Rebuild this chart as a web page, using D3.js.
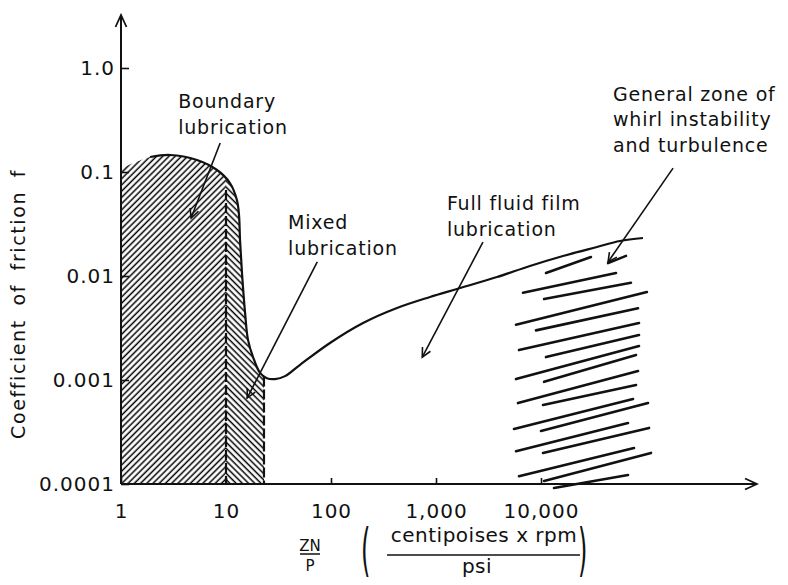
<!DOCTYPE html>
<html>
<head>
<meta charset="utf-8">
<script src="https://cdn.jsdelivr.net/npm/d3@7"></script>
<style>
  html, body { margin: 0; padding: 0; background: #fff; }
  svg { display: block; }
  text { font-family: "DejaVu Sans", sans-serif; fill: #111; }
</style>
</head>
<body>
<script>
"use strict";

// Values

const xTicks = [1, 10, 100, 1000, 10000];
const xTickLabels = ["1", "10", "100", "1,000", "10,000"];
const yTicks = [0.0001, 0.001, 0.01, 0.1, 1];
const yTickLabels = ["0.0001", "0.001", "0.01", "0.1", "1.0"];

// Stribeck curve: ZN/P against friction coefficient f
const curveZN = [1.89, 2.93, 5.29, 8.21, 10.9, 12.7, 13.3, 13.6, 14.2, 15.2, 16.2, 18.1, 21.1, 24.5, 29.3, 36.5, 50.7, 97.8, 202, 425, 877, 1585, 3810, 7850, 16200, 34100, 56500, 93600];
const curveF = [0.1394, 0.1457, 0.1303, 0.1045, 0.0784, 0.0538, 0.0386, 0.0222, 0.0107, 0.0044, 0.00243, 0.00166, 0.00117, 0.00104, 0.00102, 0.00109, 0.0014, 0.00227, 0.00353, 0.00492, 0.00628, 0.0075, 0.00977, 0.01248, 0.01557, 0.019, 0.0217, 0.0232];

// Regime limits (ZN/P) and where the dashed dividers start (f)
const boundaryEdgeF = 0.108;   // hatch top where it meets the f axis
const regimeLimits = [10, 23];
const dividerTopF = [0.067, 0.00108];

// Whirl zone strokes, start and end as [ZN/P, f]
const whirlStart = [
    [11160, 0.0107], [43500, 0.0133], [6740, 0.0069], [10700, 0.0060], [5780, 0.0034],
    [8960, 0.0030], [6170, 0.00194], [11160, 0.00166], [5780, 0.00102], [10700, 0.00096],
    [6040, 0.00060], [10450, 0.000575], [5530, 0.000338], [10000, 0.000324], [5780, 0.000207],
    [10450, 0.000199], [6170, 0.000119], [10700, 0.000107], [13300, 0.0000916]
];
const whirlEnd = [
    [29900, 0.0152], [64500, 0.0156], [51800, 0.0107], [71900, 0.0086], [102000, 0.0070],
    [84000, 0.0049], [85800, 0.00353], [85800, 0.00271], [85800, 0.00212], [80400, 0.00174],
    [84000, 0.00122], [80400, 0.000895], [75200, 0.000657], [104500, 0.000601], [67400, 0.000386],
    [106900, 0.000346], [76900, 0.000222], [111600, 0.000199], [67400, 0.000122]
];

// Annotations
const labelText = [
    ["Boundary", "lubrication"],
    ["Mixed", "lubrication"],
    ["Full fluid film", "lubrication"],
    ["General zone of", "whirl instability", "and turbulence"]
];
const labelAt = [[3.5, 0.412], [39, 0.0283], [1270, 0.0431], [48500, 0.482]];
const leaderFrom = [[8.8, 0.190], [74, 0.01364], [2800, 0.0212], [181000, 0.109]];
const leaderTo = [[4.65, 0.0361], [15.9, 0.000671], [740, 0.00166], [43500, 0.01364]];

// Size parameters

const width = 788;
const height = 585;
const ink = "#111";

const x = d3.scaleLog().domain([1, 1e6]).range([121, 121 + 6 * 105]);
const y = d3.scaleLog().domain([1e-4, 1]).range([484, 68]);

const svg = d3.select("body")
    .append("svg")
    .attr("width", width)
    .attr("height", height);

const defs = svg.append("defs");

// Hatch patterns, "/" for boundary and "\" for mixed
const makeHatch = (id, angle) => {
    defs.append("pattern")
        .attr("id", id)
        .attr("patternUnits", "userSpaceOnUse")
        .attr("width", 4.4)
        .attr("height", 10)
        .attr("patternTransform", `rotate(${angle})`)
        .append("line")
        .attr("x1", 1.2).attr("y1", 0)
        .attr("x2", 1.2).attr("y2", 10)
        .attr("stroke", "#000")
        .attr("stroke-width", 1.5);
};
makeHatch("hatchBoundary", 45);
makeHatch("hatchMixed", -45);

const makeArrow = (id, len, half, sw) => {
    defs.append("marker")
        .attr("id", id)
        .attr("viewBox", `${-len - 2} ${-half - 2} ${len + 4} ${2 * half + 4}`)
        .attr("refX", 0)
        .attr("refY", 0)
        .attr("markerWidth", len + 4)
        .attr("markerHeight", 2 * half + 4)
        .attr("markerUnits", "userSpaceOnUse")
        .attr("orient", "auto")
        .append("path")
        .attr("d", `M${-len},${-half}L0,0L${-len},${half}`)
        .attr("fill", "none")
        .attr("stroke", ink)
        .attr("stroke-width", sw);
};
makeArrow("leadArrow", 9, 4.5, 1.6);
makeArrow("axisArrow", 12, 5.5, 1.8);

/*****************
 * Hatched zones *
 *****************/

const curvePts = curveZN.map((d, i) => [d, curveF[i]]);
const areaPts = [[1, boundaryEdgeF]].concat(curvePts.filter(d => d[0] <= 26));

const area = d3.area()
    .curve(d3.curveCatmullRom.alpha(0.5))
    .x(d => x(d[0]))
    .y0(y(1e-4))
    .y1(d => y(d[1]));

const zones = [[1, regimeLimits[0], "hatchBoundary"], [regimeLimits[0], regimeLimits[1], "hatchMixed"]];

zones.forEach(([a, b, pat], i) => {
    defs.append("clipPath")
        .attr("id", "zone" + i)
        .append("rect")
        .attr("x", x(a))
        .attr("y", 0)
        .attr("width", x(b) - x(a))
        .attr("height", y(1e-4));
    svg.append("path")
        .attr("d", area(areaPts))
        .attr("clip-path", `url(#zone${i})`)
        .attr("fill", `url(#${pat})`);
});

// Dashed dividers
svg.selectAll(".divider")
    .data(regimeLimits)
    .enter()
    .append("line")
    .classed("divider", true)
    .attr("x1", d => x(d))
    .attr("x2", d => x(d))
    .attr("y1", (d, i) => y(dividerTopF[i]))
    .attr("y2", y(1e-4))
    .attr("stroke", ink)
    .attr("stroke-width", 2.2)
    .attr("stroke-dasharray", "10,3");

/**************
 * Whirl zone *
 **************/

svg.selectAll(".whirl")
    .data(whirlStart)
    .enter()
    .append("line")
    .classed("whirl", true)
    .attr("x1", d => x(d[0]))
    .attr("y1", d => y(d[1]))
    .attr("x2", (d, i) => x(whirlEnd[i][0]))
    .attr("y2", (d, i) => y(whirlEnd[i][1]))
    .attr("stroke", ink)
    .attr("stroke-width", 2.6)
    .attr("stroke-linecap", "round");

/*********
 * Curve *
 *********/

svg.append("path")
    .attr("d", d3.line().curve(d3.curveCatmullRom.alpha(0.5)).x(d => x(d[0])).y(d => y(d[1]))(curvePts))
    .attr("fill", "none")
    .attr("stroke", ink)
    .attr("stroke-width", 2.2);

/********
 * Axes *
 ********/

const xAxis = svg.append("g")
    .attr("transform", `translate(0,${y(1e-4)})`)
    .call(d3.axisBottom(x)
        .tickValues(xTicks)
        .tickFormat((d, i) => xTickLabels[i])
        .tickSizeInner(-6)
        .tickSizeOuter(0)
        .tickPadding(20));

const yAxis = svg.append("g")
    .attr("transform", `translate(${x(1)},0)`)
    .call(d3.axisLeft(y)
        .tickValues(yTicks)
        .tickFormat((d, i) => yTickLabels[i])
        .tickSizeInner(-8)
        .tickSizeOuter(0)
        .tickPadding(6));

[xAxis, yAxis].forEach(g => {
    g.select(".domain").remove();
    g.attr("font-family", "DejaVu Sans, sans-serif").attr("font-size", 20);
    g.selectAll(".tick line").attr("stroke", ink).attr("stroke-width", 1.6);
    g.selectAll(".tick text").attr("fill", ink).attr("letter-spacing", "1px");
});

// Axis lines with open arrow heads
svg.append("line")
    .attr("x1", x(1)).attr("y1", y(1e-4))
    .attr("x2", x(1)).attr("y2", 15)
    .attr("stroke", ink).attr("stroke-width", 2)
    .attr("marker-end", "url(#axisArrow)");

svg.append("line")
    .attr("x1", x(1)).attr("y1", y(1e-4))
    .attr("x2", 757).attr("y2", y(1e-4))
    .attr("stroke", ink).attr("stroke-width", 2)
    .attr("marker-end", "url(#axisArrow)");

// y title
svg.append("text")
    .attr("transform", `translate(25,${(y(1e-4) + y(1)) / 2 + 28}) rotate(-90)`)
    .attr("text-anchor", "middle")
    .attr("font-size", 19)
    .attr("letter-spacing", "1.6px")
    .attr("word-spacing", "6px")
    .text("Coefficient of friction f");

// x title: ZN/P (centipoises x rpm / psi)
const xt = svg.append("g");
xt.append("text")
    .attr("x", 310).attr("y", 551)
    .attr("text-anchor", "middle")
    .attr("font-size", 15)
    .attr("font-family", "DejaVu Sans Condensed, DejaVu Sans, sans-serif")
    .text("ZN");
xt.append("line")
    .attr("x1", 300).attr("x2", 320)
    .attr("y1", 554).attr("y2", 554)
    .attr("stroke", ink).attr("stroke-width", 1.5);
xt.append("text")
    .attr("x", 310).attr("y", 571)
    .attr("text-anchor", "middle")
    .attr("font-size", 15)
    .attr("font-family", "DejaVu Sans Condensed, DejaVu Sans, sans-serif")
    .text("P");
xt.append("text")
    .attr("transform", "translate(361,569) scale(1,2.4)")
    .attr("font-size", 24)
    .text("(");
xt.append("text")
    .attr("transform", "translate(578,569) scale(1,2.4)")
    .attr("font-size", 24)
    .text(")");
xt.append("text")
    .attr("x", 484).attr("y", 542)
    .attr("text-anchor", "middle")
    .attr("font-size", 20)
    .attr("letter-spacing", "0.5px")
    .text("centipoises x rpm");
xt.append("line")
    .attr("x1", 387).attr("x2", 580)
    .attr("y1", 555).attr("y2", 555)
    .attr("stroke", ink).attr("stroke-width", 1.6);
xt.append("text")
    .attr("x", 477).attr("y", 573)
    .attr("text-anchor", "middle")
    .attr("font-size", 20)
    .attr("letter-spacing", "0.5px")
    .text("psi");

/***************
 * Annotations *
 ***************/

svg.selectAll(".leader")
    .data(leaderFrom)
    .enter()
    .append("line")
    .classed("leader", true)
    .attr("x1", d => x(d[0]))
    .attr("y1", d => y(d[1]))
    .attr("x2", (d, i) => x(leaderTo[i][0]))
    .attr("y2", (d, i) => y(leaderTo[i][1]))
    .attr("stroke", ink)
    .attr("stroke-width", 1.6)
    .attr("marker-end", "url(#leadArrow)");

const labels = svg.selectAll(".label")
    .data(labelText)
    .enter()
    .append("text")
    .classed("label", true)
    .attr("font-size", 19)
    .attr("letter-spacing", "0.8px");

labels.each(function (lines, i) {
    d3.select(this)
        .selectAll("tspan")
        .data(lines)
        .enter()
        .append("tspan")
        .attr("x", x(labelAt[i][0]))
        .attr("y", (d, j) => y(labelAt[i][1]) + j * 25.5)
        .text(d => d);
});
</script>
</body>
</html>
